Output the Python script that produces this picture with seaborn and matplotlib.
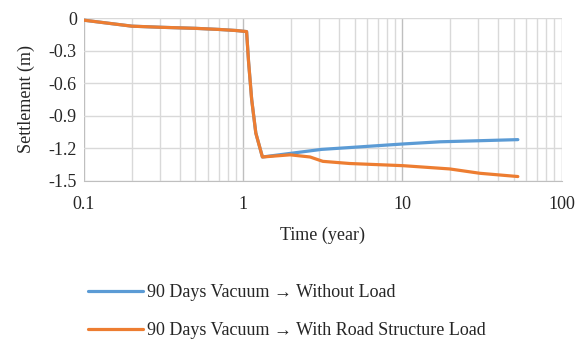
import matplotlib.pyplot as plt
import matplotlib.ticker as mticker
import seaborn as sns

# Settlement curves (time in years, settlement in m)
t_common = [0.1, 0.2, 0.3, 0.5, 0.7, 0.9, 1.05, 1.08, 1.13, 1.2, 1.32]
s_common = [-0.02, -0.075, -0.085, -0.095, -0.105, -0.115, -0.125, -0.4, -0.75, -1.06, -1.28]

t_no_load = [1.32, 1.9, 3.1, 5.0, 10.1, 17.2, 30.6, 53]
s_no_load = [-1.28, -1.25, -1.21, -1.19, -1.16, -1.14, -1.13, -1.12]

t_road = [1.32, 1.97, 2.63, 3.16, 4.66, 10.1, 19.8, 30.6, 53]
s_road = [-1.28, -1.26, -1.28, -1.32, -1.34, -1.36, -1.39, -1.43, -1.46]

labels = ["90 Days Vacuum \u2192 Without Load",
          "90 Days Vacuum \u2192 With Road Structure Load"]
colors = ["#5B9BD5", "#ED7D31"]

sns.set_style("white")
plt.rcParams["font.family"] = ["Liberation Serif", "DejaVu Serif"]

fig = plt.figure(figsize=(5.87, 3.4), dpi=100)
ax = fig.add_axes([0.143, 0.468, 0.814, 0.479])

sns.lineplot(x=t_common + t_no_load[1:], y=s_common + s_no_load[1:], ax=ax,
             color=colors[0], linewidth=2.3, label=labels[0], sort=False)
sns.lineplot(x=t_common + t_road[1:], y=s_common + s_road[1:], ax=ax,
             color=colors[1], linewidth=2.3, label=labels[1], sort=False)

ax.set_xscale("log")
ax.set_xlim(0.1, 100)
ax.set_ylim(-1.5, 0)
ax.set_yticks([0, -0.3, -0.6, -0.9, -1.2, -1.5])
ax.yaxis.set_major_formatter(mticker.FuncFormatter(lambda v, p: "0" if v == 0 else f"{v:.1f}"))
ax.xaxis.set_major_locator(mticker.FixedLocator([0.1, 1, 10, 100]))
ax.xaxis.set_major_formatter(mticker.FuncFormatter(lambda v, p: f"{v:g}"))
ax.xaxis.set_minor_locator(mticker.LogLocator(base=10, subs=range(2, 10)))
ax.xaxis.set_minor_formatter(mticker.NullFormatter())

ax.grid(True, which="major", axis="y", color="#D9D9D9", linewidth=1)
ax.grid(True, which="minor", axis="x", color="#D9D9D9", linewidth=1)
ax.grid(True, which="major", axis="x", color="#BFBFBF", linewidth=1)
ax.set_axisbelow(True)

for side in ["top", "right", "left"]:
    ax.spines[side].set_visible(False)
ax.spines["bottom"].set_color("#BFBFBF")
ax.tick_params(axis="x", which="major", length=5, color="#BFBFBF", labelsize=13, pad=6)
ax.tick_params(axis="x", which="minor", length=0)
ax.tick_params(axis="y", length=0, labelsize=13, pad=5)

ax.set_xlabel("Time (year)", fontsize=13, labelpad=10)
ax.set_ylabel("Settlement (m)", fontsize=13, labelpad=10)

ax.get_legend().remove()
handles, lbls = ax.get_legend_handles_labels()
fig.legend(handles, lbls, loc="upper left", bbox_to_anchor=(0.123, 0.212),
           frameon=False, fontsize=13, handlelength=3.0, handletextpad=0.25,
           labelspacing=1.15)

fig.savefig("out.png", dpi=100)
